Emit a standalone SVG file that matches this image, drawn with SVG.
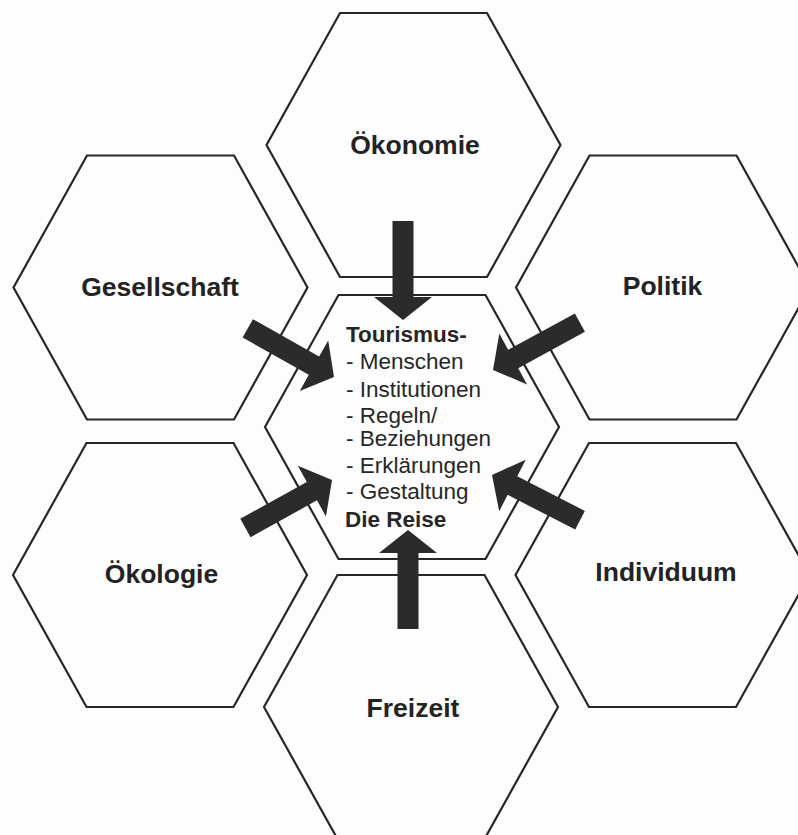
<svg xmlns="http://www.w3.org/2000/svg" xmlns:xlink="http://www.w3.org/1999/xlink" width="798" height="835" viewBox="0 0 798 835">
<style>
.hex{fill:none;stroke:#262626;stroke-width:2.2;stroke-linejoin:miter}
.lbl{font-family:"Liberation Sans",Arial,sans-serif;font-weight:bold;font-size:26.5px;fill:#232323;text-anchor:middle}
.ct{font-family:"Liberation Sans",Arial,sans-serif;font-size:22.5px;fill:#262626}
.ctb{font-weight:bold}
.arr{fill:#2b2b2b}
</style>
<defs>
<path id="arrow" d="M0,0 L-23,-29 L-23,-10.5 L-99,-10.5 L-99,10.5 L-23,10.5 L-23,29 Z"/>
</defs>
<rect width="798" height="835" fill="#fdfdfd"/>
<g id="oekonomie">
<polygon class="hex" points="266.5,145 340,13 487,13 560.5,145 487,277 340,277"/>
<text class="lbl" x="415" y="154">Ökonomie</text>
</g>
<g id="gesellschaft">
<polygon class="hex" points="13.5,287.5 87,155.5 234,155.5 307.5,287.5 234,419.5 87,419.5"/>
<text class="lbl" x="160" y="296">Gesellschaft</text>
</g>
<g id="politik">
<polygon class="hex" points="516,287.5 589.5,155.5 736.5,155.5 810,287.5 736.5,419.5 589.5,419.5"/>
<text class="lbl" x="662.5" y="295">Politik</text>
</g>
<g id="tourismus">
<polygon class="hex" points="265,427 338.5,295 485.5,295 559,427 485.5,559 338.5,559"/>
<text class="ct ctb" x="346" y="342">Tourismus-</text>
<text class="ct" x="346" y="369">- Menschen</text>
<text class="ct" x="346" y="397">- Institutionen</text>
<text class="ct" x="346" y="423">- Regeln/</text>
<text class="ct" x="346" y="446">- Beziehungen</text>
<text class="ct" x="346" y="473">- Erklärungen</text>
<text class="ct" x="346" y="499">- Gestaltung</text>
<text class="ct ctb" x="345" y="527">Die Reise</text>
</g>
<g id="oekologie">
<polygon class="hex" points="13,575 86.5,443 233.5,443 307,575 233.5,707 86.5,707"/>
<text class="lbl" x="161.5" y="583">Ökologie</text>
</g>
<g id="individuum">
<polygon class="hex" points="515.5,575 589,443 736,443 809.5,575 736,707 589,707"/>
<text class="lbl" x="666" y="581">Individuum</text>
</g>
<g id="freizeit">
<polygon class="hex" points="264,707 337.5,575 484.5,575 558,707 484.5,839 337.5,839"/>
<text class="lbl" x="413" y="717">Freizeit</text>
</g>
<g id="connectors" class="arr">
<use xlink:href="#arrow" transform="translate(403,320) rotate(90)"/>
<use xlink:href="#arrow" transform="translate(334,377) rotate(29.4)"/>
<use xlink:href="#arrow" transform="translate(493,370) rotate(151.4)"/>
<use xlink:href="#arrow" transform="translate(332,480) rotate(-29)"/>
<use xlink:href="#arrow" transform="translate(492,475) rotate(207.2)"/>
<use xlink:href="#arrow" transform="translate(408,530) rotate(-90)"/>
</g>
</svg>
